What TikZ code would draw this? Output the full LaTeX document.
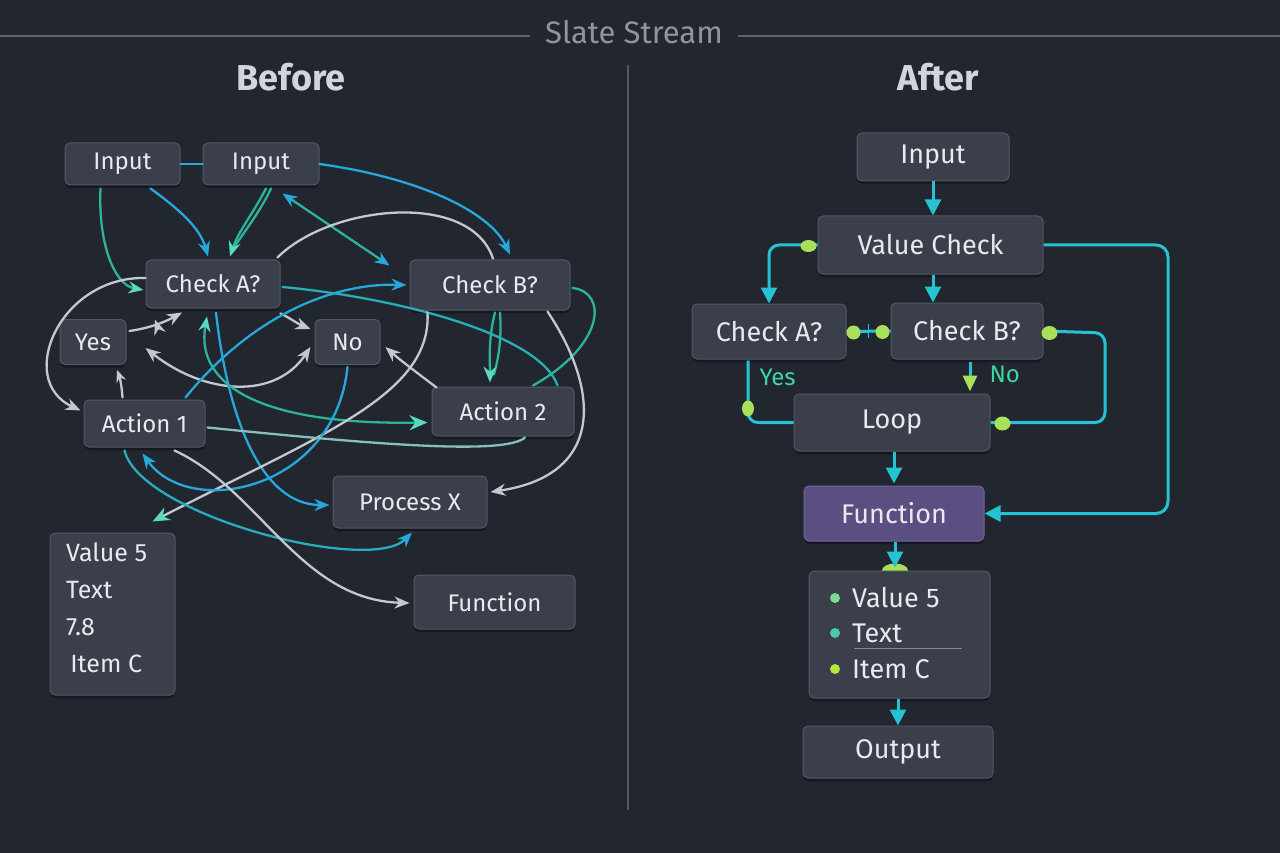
\documentclass[tikz,border=0pt]{standalone}
\usepackage{fontspec}
\setmainfont{Fira Sans}
\usetikzlibrary{arrows.meta,calc,shadows,decorations.markings}
\definecolor{bg}{HTML}{21262F}
\definecolor{boxfill}{HTML}{3A3F4B}
\definecolor{boxline}{HTML}{525866}
\definecolor{txt}{HTML}{E8EAEF}
\definecolor{hdr}{HTML}{5D6371}
\definecolor{htxt}{HTML}{8E94A0}
\definecolor{ttl}{HTML}{D2D5DD}
\definecolor{cyanL}{HTML}{27A8DC}
\definecolor{tealL}{HTML}{2BB39C}
\definecolor{tealT}{HTML}{5AD8C0}
\definecolor{grayL}{HTML}{C3C7D1}
\definecolor{rcy}{HTML}{25C2D4}
\definecolor{dotg}{HTML}{A9E05B}
\definecolor{lblg}{HTML}{3DD6A3}
\definecolor{purf}{HTML}{5B4F82}
\definecolor{purl}{HTML}{6F6499}
\definecolor{b1}{HTML}{7DDC8A}
\definecolor{b2}{HTML}{4CC9A8}
\definecolor{b3}{HTML}{B5E43C}
\tikzset{
  box/.style={rectangle, rounded corners=5pt, fill=boxfill, draw=boxline, line width=1pt, text=txt, inner sep=0pt,
    drop shadow={shadow xshift=0pt,shadow yshift=-3pt,opacity=.35,fill=black}},
  lfont/.style={font=\fontsize{24}{28}\selectfont},
  rfont/.style={font=\fontsize{27}{32}\selectfont},
  ltip/.style={-{Stealth[length=15pt,width=12pt]}},
  lline/.style={line width=2.3pt, line cap=round},
  cyl/.style={lline, draw=cyanL},
  tll/.style={lline, draw=tealL},
  gyl/.style={lline, draw=grayL},
  rline/.style={draw=rcy, line width=3pt},
  rtip/.style={-{Triangle[length=16pt,width=16pt]}},
  gdot/.style={fill=dotg},
  lbl/.style={text=lblg, font=\fontsize{24}{28}\selectfont},
  tickmid/.style={postaction={decorate, decoration={markings, mark=at position 0.5 with {\draw[grayL,line width=1.6pt] (0,-5pt) -- (0,5pt);}}}}
}
\begin{document}
\begin{tikzpicture}[x=1pt,y=-1pt]
\useasboundingbox (0,0) rectangle (1280,853);
\fill[bg] (0,0) rectangle (1280,853);

% header
\node[text=htxt, font=\fontsize{31}{36}\selectfont] (title) at (634,32) {Slate Stream};
\coordinate (hl) at (0,36);
\coordinate (hr) at (1280,36);
\draw[hdr, line width=1.5pt] (hl) -- ($(title.west)+(-12,4)$);
\draw[hdr, line width=1.5pt] ($(title.east)+(12,4)$) -- (hr);
\node[text=ttl, font=\bfseries\fontsize{36}{40}\selectfont] (before) at (291,77) {Before};
\node[text=ttl, font=\bfseries\fontsize{36}{40}\selectfont] (after) at (938,77) {After};
\coordinate (dtop) at (628,65);
\coordinate (dbot) at (628,810);
\draw[draw=hdr!80!bg, line width=1.2pt] (dtop) -- (dbot);

% ===== LEFT nodes =====
\node[box,lfont,minimum width=115pt,minimum height=42pt] (in1) at (122.5,164) {Input};
\node[box,lfont,minimum width=116pt,minimum height=42pt] (in2) at (261,164) {Input};
\node[box,lfont,minimum width=134pt,minimum height=48pt] (ca) at (213,284) {Check A?};
\node[box,lfont,minimum width=160pt,minimum height=50pt] (cb) at (490,285) {Check B?};
\node[box,lfont,minimum width=66pt,minimum height=45pt] (yes) at (93,342) {Yes};
\node[box,lfont,minimum width=65pt,minimum height=45pt] (no) at (347.5,342) {No};
\node[box,lfont,minimum width=121pt,minimum height=47pt] (a1) at (144.5,423.5) {Action 1};
\node[box,lfont,minimum width=142pt,minimum height=49pt] (a2) at (503,411.5) {Action 2};
\node[box,lfont,minimum width=154pt,minimum height=52pt] (px) at (410,502) {Process X};
\node[box,lfont,minimum width=161pt,minimum height=54pt] (fn) at (494.5,602) {Function};
\node[box,minimum width=125pt,minimum height=162pt] (val) at (112.5,614) {};
\node[text=txt, font=\fontsize{25}{37}\selectfont, align=left, anchor=north west, inner sep=0pt] (valtxt) at (66,543) {Value 5\\Text\\7.8\\\,Item C};

% ===== LEFT connectors =====
\draw[cyl] (in1.east) -- (in2.west);
\draw[tll,-{Stealth[length=15pt,width=12pt,color=tealT]}] ($(in1.south)+(-22,3)$) .. controls (98,245) and (115,285) .. ($(ca.west)+(-2,6)$);
\draw[cyl,ltip] ($(in1.south)+(28,3)$) .. controls (180,210) and (200,228) .. ($(ca.north)+(-5,-3)$);
\draw[tll] ($(in2.south)+(10,3)$) .. controls (260,212) and (244,232) .. ($(ca.north)+(21,-12)$);
\draw[tll,-{Stealth[length=15pt,width=12pt,color=tealT]}] ($(in2.south)+(5,3)$) .. controls (254,212) and (238,232) .. ($(ca.north)+(17,-3)$);
\draw[tll,{Stealth[length=15pt,width=12pt,color=cyanL]}-{Stealth[length=15pt,width=12pt,color=cyanL]}] ($(in2.south east)+(-37,8)$) -- ($(cb.north west)+(-20,6)$);
\draw[cyl,ltip] (in2.east) .. controls (420,178) and (490,212) .. ($(cb.north)+(20,-5)$);
\draw[gyl] ($(ca.north east)+(-3,-2)$) .. controls (330,205) and (470,190) .. ($(cb.north)+(3,-1)$);
\draw[gyl,ltip] ($(ca.west)+(0,-6)$) .. controls (60,276) and (15,380) .. ($(a1.west)+(-3,-13)$);
\draw[gyl,ltip,tickmid] ($(yes.east)+(3,-11)$) .. controls (150,328) and (165,322) .. ($(ca.south)+(-31,4)$);
\draw[gyl,ltip] ($(ca.south east)+(0,5)$) .. controls (290,318) and (298,324) .. ($(no.west)+(-4,-13)$);
\draw[gyl,{Stealth[length=15pt,width=12pt]}-{Stealth[length=15pt,width=12pt]}] ($(yes.east)+(19,6)$) .. controls (205,395) and (275,400) .. ($(no.west)+(-4,5)$);
\draw[gyl,-{Stealth[length=12pt,width=10pt]}] ($(a1.north)+(-22,-2)$) .. controls (122,388) and (120,378) .. ($(yes.south)+(24,5)$);
\draw[cyl,ltip] ($(a1.north east)+(-20,-2)$) .. controls (250,318) and (330,283) .. ($(cb.west)+(-3,0)$);
\draw[cyl,ltip] ($(ca.south)+(3,4)$) .. controls (228,420) and (262,505) .. ($(px.west)+(-3,3)$);
\draw[tll,{Stealth[length=15pt,width=12pt,color=tealT]}-{Stealth[length=18pt,width=15pt,color=tealT]}] ($(ca.south)+(-6,8)$) .. controls (195,385) and (260,425) .. ($(a2.west)+(-4,11)$);
\draw[lline, draw=tealL!55!cyanL] ($(ca.east)+(2,3)$) .. controls (400,298) and (540,335) .. ($(a2.north east)+(-17,-1)$);
\draw[tll] ($(cb.south)+(10,2)$) .. controls (502,340) and (498,360) .. ($(a2.north)+(-9,-12)$);
\draw[tll,-{Stealth[length=16pt,width=13pt,color=tealT]}] ($(cb.south)+(5,2)$) .. controls (488,340) and (490,360) .. ($(a2.north)+(-13,-4)$);
\draw[tll] ($(cb.east)+(2,3)$) .. controls (608,292) and (605,345) .. ($(a2.north)+(30,-1)$);
\draw[gyl,ltip] ($(cb.south east)+(-23,1)$) .. controls (600,390) and (605,475) .. ($(px.east)+(3,-10)$);
\draw[gyl,ltip] ($(a2.north west)+(5,1)$) .. controls (420,375) and (400,360) .. ($(no.east)+(5,5)$);
\draw[gyl,-{Stealth[length=17pt,width=14pt,color=tealT]}] ($(cb.south west)+(18,2)$) .. controls (432,395) and (320,435) .. ($(val.north east)+(-23,-11)$);
\draw[cyl,ltip] ($(no.south)+(0,2)$) .. controls (335,490) and (190,520) .. ($(a1.south)+(-2,6)$);
\draw[lline, draw=tealL!50!cyanL, -{Stealth[length=15pt,width=12pt,color=cyanL]}] ($(a1.south)+(-20,3)$) .. controls (140,515) and (370,575) .. ($(px.south)+(2,4)$);
\draw[gyl,ltip] ($(a1.south)+(30,3)$) .. controls (260,490) and (300,600) .. ($(fn.west)+(-4,1)$);
\draw[lline, draw=grayL!60!tealL] ($(a1.east)+(2,4)$) .. controls (380,445) and (505,455) .. ($(a2.south)+(22,1)$);

% ===== RIGHT nodes =====
\node[box,rfont,minimum width=152pt,minimum height=48pt] (rin) at (933,157) {Input};
\node[box,rfont,minimum width=225pt,minimum height=58pt] (vc) at (930.5,245) {Value Check};
\node[box,rfont,minimum width=154pt,minimum height=55pt] (rca) at (769,331.5) {Check A?};
\node[box,rfont,minimum width=152pt,minimum height=56pt] (rcb) at (967,331) {Check B?};
\node[box,rfont,minimum width=196pt,minimum height=57pt] (loop) at (892,422.5) {Loop};
\node[box,rfont,fill=purf,draw=purl,minimum width=180pt,minimum height=55pt] (rfn) at (894,513.5) {Function};
\node[box,minimum width=181pt,minimum height=127pt] (list) at (899.5,634.5) {};
\node[box,rfont,minimum width=190pt,minimum height=52pt] (out) at (898,752) {Output};

% list contents
\fill[b1] (835,598) circle (5);
\fill[b2] (835,633) circle (5);
\fill[b3] (835,669) circle (5);
\node[text=txt, font=\fontsize{27}{32}\selectfont, anchor=west, inner sep=0pt] (li1) at (852,598) {Value 5};
\node[text=txt, font=\fontsize{27}{32}\selectfont, anchor=west, inner sep=0pt] (li2) at (852,633) {Text};
\node[text=txt, font=\fontsize{27}{32}\selectfont, anchor=west, inner sep=0pt] (li3) at (852,669) {Item C};
\draw[grayL!60!bg, line width=0.8pt] ($(li2.south west)+(2,6)$) -- ++(108,0);

% ===== RIGHT connectors =====
\draw[rline,rtip] (rin.south) -- (rin.south |- vc.north);
\draw[rline,rtip,rounded corners=10pt] (vc.west) -| (rca.north);
\fill[gdot] ($(vc.west)+(-9,1)$) ellipse [x radius=8, y radius=6];
\draw[rline,rtip] (vc.south) ++(2.5,0) -- ($(rcb.north)+(-34,0)$);
\coordinate (vcr) at (1168,245);
\draw[rline,rtip,rounded corners=12pt] (vc.east) -- (vcr) |- (rfn.east);
\draw[rline] (rca.east) -- (rcb.west);
\draw[rcy, line width=1.6pt] ($(rca.east)!0.5!(rcb.west)+(0,-7)$) -- ++(0,14);
\fill[gdot] ($(rca.east)+(7,1)$) ellipse [x radius=7, y radius=7];
\fill[gdot] ($(rcb.west)+(-8,1)$) ellipse [x radius=7, y radius=7];
\draw[rline,rounded corners=10pt] ($(rca.south)+(-21,1)$) |- (loop.west);
\fill[gdot] ($(rca.south)+(-21,49)$) ellipse [x radius=6, y radius=8];
\node[lbl, anchor=west] (yeslbl) at (756,377) {Yes};
\draw[draw=rcy, line width=3pt, -{Triangle[length=16pt,width=14pt,color=dotg]}] ($(rcb.south)+(3,2)$) -- ($(loop.north)+(78,-2)$);
\node[lbl, anchor=west] (nolbl) at (986,374) {No};
\coordinate (cbr) at (1105,333);
\draw[rline,rounded corners=10pt] (rcb.east) -- (cbr) |- (loop.east);
\fill[gdot] ($(rcb.east)+(6,2)$) ellipse [x radius=8, y radius=7];
\fill[gdot] ($(loop.east)+(12,1)$) ellipse [x radius=8, y radius=7];
\draw[rline,rtip] (loop.south) ++(2,0) -- ($(rfn.north)+(0,-2)$);
\fill[dotg] ($(list.north)+(-17.5,0)$) arc[start angle=180, end angle=360, x radius=13, y radius=7];
\draw[rline,rtip] (rfn.south) ++(1,0) -- ($(list.north)+(-4.5,-3)$);
\draw[rline,rtip] (list.south) ++(-1.5,0) -- (out.north);
\end{tikzpicture}
\end{document}
